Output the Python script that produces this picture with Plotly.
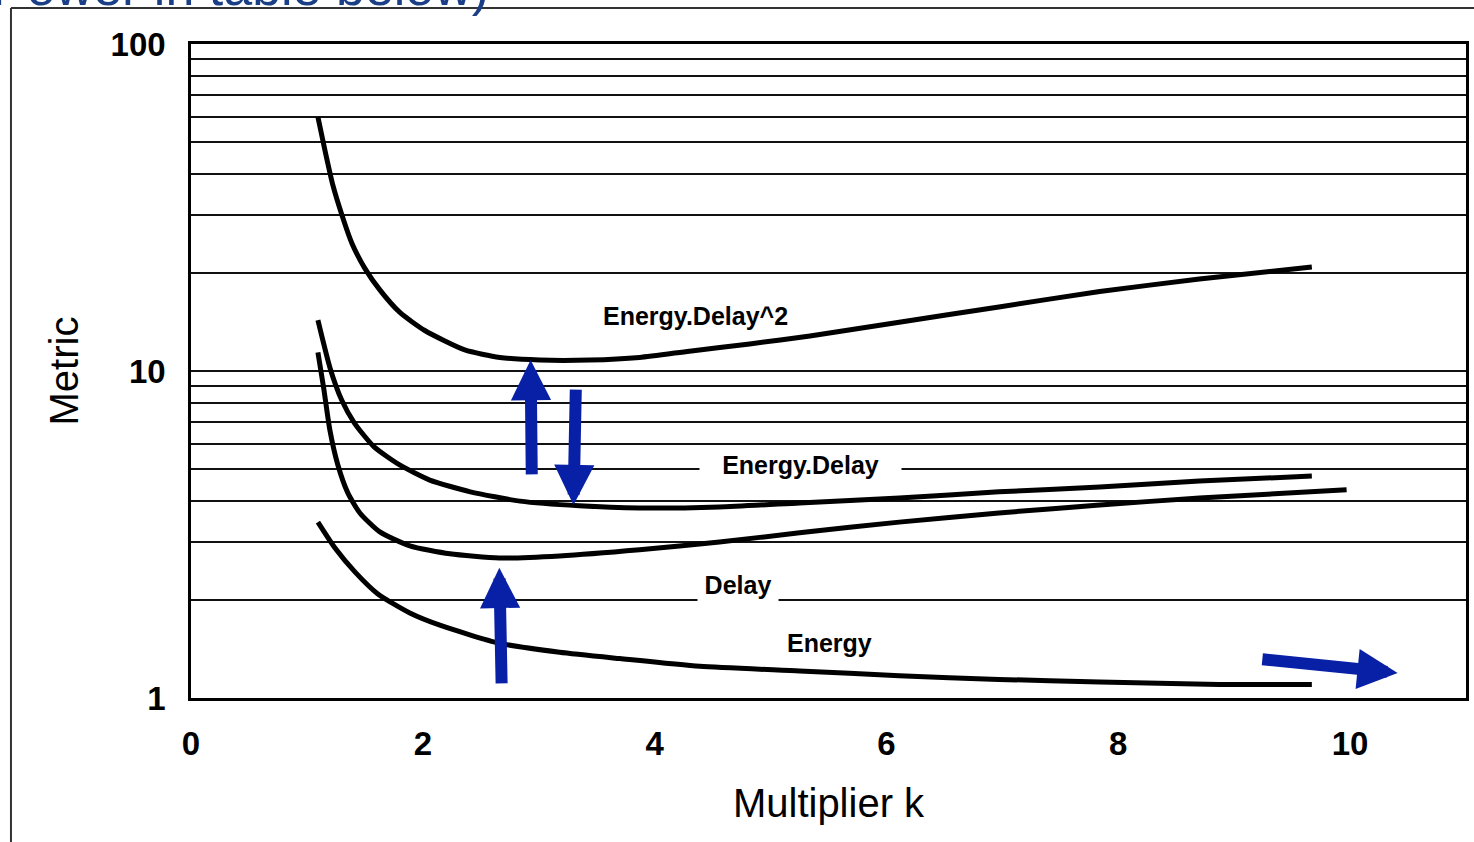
import plotly.graph_objects as go
import math

# ---- data ----
k_ed2 = [1.095, 1.155, 1.224, 1.302, 1.388, 1.5, 1.629, 1.802, 2.017, 2.362, 2.664, 3.009, 3.44, 3.87, 4.30, 4.82, 5.34, 6.11, 6.97, 7.84, 8.70, 9.67]
energy_delay2 = [59.8, 47.4, 37.0, 30.0, 24.6, 20.6, 17.7, 15.1, 13.3, 11.6, 11.0, 10.8, 10.8, 11.0, 11.5, 12.1, 12.8, 14.1, 15.7, 17.5, 19.1, 20.8]

k_ed = [1.095, 1.2, 1.30, 1.41, 1.58, 1.80, 2.06, 2.41, 2.84, 3.35, 3.87, 4.56, 5.25, 6.11, 6.97, 7.84, 8.70, 9.67]
energy_delay = [14.3, 10.2, 8.15, 6.93, 5.86, 5.16, 4.64, 4.27, 4.00, 3.87, 3.81, 3.84, 3.95, 4.09, 4.27, 4.42, 4.61, 4.77]

k_d = [1.095, 1.147, 1.198, 1.267, 1.353, 1.457, 1.629, 1.888, 2.233, 2.66, 3.18, 3.87, 4.56, 5.25, 6.11, 6.97, 7.84, 8.70, 9.97]
delay = [11.4, 8.75, 6.6, 5.16, 4.24, 3.68, 3.22, 2.92, 2.76, 2.68, 2.72, 2.84, 3.00, 3.20, 3.45, 3.68, 3.89, 4.09, 4.33]

k_e = [1.095, 1.241, 1.414, 1.612, 1.888, 2.147, 2.664, 3.18, 3.70, 4.39, 5.25, 6.11, 6.97, 7.84, 8.87, 9.67]
energy = [3.45, 2.88, 2.43, 2.08, 1.82, 1.67, 1.47, 1.38, 1.32, 1.25, 1.21, 1.17, 1.14, 1.12, 1.10, 1.10]

x_ticks = [0, 2, 4, 6, 8, 10]
y_grid = [m * 10 ** d for d in range(2) for m in range(1, 10)] + [100]
y_labels = {1: "1", 10: "10", 100: "100"}

# curve labels: (text, k, metric, box width)
curve_labels = [
    ("Energy.Delay^2", 4.35, 14.75, None),
    ("Energy.Delay", 5.26, 5.16, 197),
    ("Delay", 4.72, 2.215, 76),
    ("Energy", 5.509, 1.472, None),
]

# arrows: (tail k, tail metric, tip k, tip metric)
arrows = [
    (2.68, 1.096, 2.66, 2.50),
    (2.94, 4.78, 2.93, 10.8),
    (3.32, 8.87, 3.30, 3.89),
    (9.23, 1.315, 10.41, 1.193),
]

FONT = "Liberation Sans, Arial, sans-serif"
ARROW_COLOR = "#0820A6"

fig = go.Figure()
for kk, vv in [(k_ed2, energy_delay2), (k_ed, energy_delay), (k_d, delay), (k_e, energy)]:
    fig.add_trace(go.Scatter(
        x=kk, y=vv, mode="lines",
        line=dict(color="black", width=5, shape="spline", smoothing=0.6),
        showlegend=False, hoverinfo="skip"))

annotations = []
for text, kx, my, w in curve_labels:
    a = dict(x=kx, y=math.log10(my), xref="x", yref="y", text=text, showarrow=False,
             font=dict(family=FONT, size=25, color="black", weight="bold"),
             bgcolor="white", borderpad=2)
    if w:
        a["width"] = w
    annotations.append(a)

for tx, ty, hx, hy in arrows:
    annotations.append(dict(
        x=hx, y=math.log10(hy), ax=tx, ay=math.log10(ty),
        xref="x", yref="y", axref="x", ayref="y",
        text="", showarrow=True, arrowhead=2, arrowsize=0.67, arrowwidth=12,
        arrowcolor=ARROW_COLOR, standoff=0, startstandoff=0))

# partially visible heading at the top of the slide
annotations.append(dict(
    x=-0.158, y=1.040, xref="paper", yref="paper", xanchor="left", yanchor="bottom",
    text="Power in table below)", showarrow=False,
    font=dict(family=FONT, size=52, color="#1B3F87")))

fig.update_layout(
    width=1474, height=842,
    margin=dict(l=191, r=8, t=44, b=144),
    paper_bgcolor="white", plot_bgcolor="white",
    font=dict(family=FONT, color="black"),
    annotations=annotations,
    shapes=[
        dict(type="line", xref="paper", yref="paper", x0=-0.1412, x1=1.01, y0=1.055, y1=1.055,
             line=dict(color="#333333", width=2)),
        dict(type="line", xref="paper", yref="paper", x0=-0.1412, x1=-0.1412, y0=1.055, y1=-0.25,
             line=dict(color="#333333", width=2)),
    ],
    xaxis=dict(
        range=[0, 11], tickvals=x_ticks, ticktext=[str(v) for v in x_ticks],
        showgrid=False, zeroline=False, showline=True, mirror=True,
        linecolor="black", linewidth=2.5, ticks="",
        tickfont=dict(family=FONT, size=33, color="black", weight="bold"),
        ticklabelstandoff=15,
        title=dict(text="Multiplier k", font=dict(family=FONT, size=40, color="black"), standoff=28),
        automargin=False,
    ),
    yaxis=dict(
        type="log", range=[0, 2], tickvals=y_grid,
        ticktext=[y_labels.get(v, "") for v in y_grid],
        showgrid=True, gridcolor="#111111", gridwidth=1.6,
        zeroline=False, showline=True, mirror=True,
        linecolor="black", linewidth=2.5, ticks="",
        tickfont=dict(family=FONT, size=33, color="black", weight="bold"),
        ticklabelstandoff=16,
        title=dict(text="Metric", font=dict(family=FONT, size=40, color="black"), standoff=20),
        automargin=False,
    ),
)

fig.write_html("out.html")
